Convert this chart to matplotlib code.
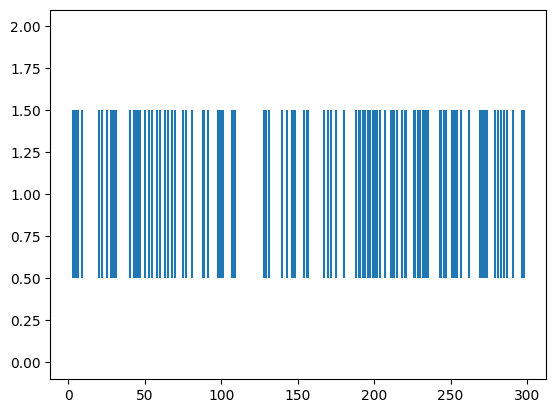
import matplotlib
matplotlib.use('Agg')
import matplotlib.pyplot as plt

# event times
events = [3, 4, 5, 6, 9, 20, 22, 25, 28, 29, 30, 31, 40, 43, 44, 45, 46, 47,
          50, 53, 55, 58, 60, 63, 65, 68, 70, 75, 77, 81, 88, 89, 91,
          98, 99, 100, 101, 107, 108, 109, 128, 129, 131, 140, 143, 146, 147, 148,
          154, 156, 157, 167, 170, 172, 175, 180, 188, 190, 191, 193, 194,
          196, 197, 199, 200, 201, 202, 204, 207, 211, 212, 213, 215, 218,
          220, 221, 226, 227, 229, 230, 232, 233, 234, 235, 243, 244, 246, 247,
          251, 252, 253, 254, 257, 262, 269, 270, 271, 272, 273, 274,
          279, 281, 283, 285, 287, 291, 297, 298]

fig = plt.figure(figsize=(6.4, 4.8), dpi=100)
plt.eventplot(events)
plt.savefig('out.png', bbox_inches='tight')
